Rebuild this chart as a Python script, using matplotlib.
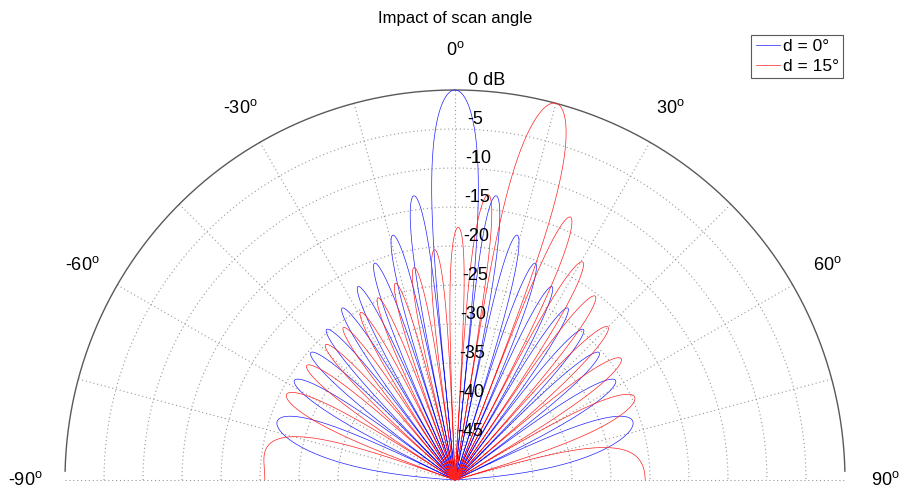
import matplotlib
matplotlib.use("Agg")
import matplotlib.pyplot as plt
import numpy as np

plt.rcParams['font.family'] = ['Liberation Sans', 'DejaVu Sans']
plt.rcParams['mathtext.fontset'] = 'custom'
plt.rcParams['mathtext.rm'] = 'Liberation Sans'

# array: 20 elements, half-wavelength spacing, two scan angles
n_elements = 20
element_spacing = 0.5
scan_angles = [0, 15]
series_labels = ['d = 0°', 'd = 15°']
series_colors = ['#2020ff', '#ff2020']
db_floor = -50
db_rings = [-5, -10, -15, -20, -25, -30, -35, -40, -45]
ring_labels = ['-5', '-10', '-15', '-20', '-25', '-30', '-35', '-40', '-45']
spoke_angles = [-75, -60, -45, -30, -15, 0, 15, 30, 45, 60, 75]
angle_ticks = [-90, -60, -30, 0, 30, 60, 90]

fig = plt.figure(figsize=(9.05, 4.92), dpi=100)
ax = fig.add_axes([0, 0, 1, 1])
ax.set_xlim(-455 / 390, 450 / 390)
ax.set_ylim(-12 / 390, 480 / 390)
ax.axis('off')


def to_xy(theta_deg, r):
    t = np.radians(theta_deg)
    return r * np.sin(t), r * np.cos(t)


def db_to_r(db):
    return np.clip((np.asarray(db) - db_floor) / -db_floor, 0, None)


grid_kw = dict(color='0.6', linestyle=(0, (1, 2.5)), linewidth=0.8)
arc = np.linspace(-90, 90, 721)
for db in db_rings:
    ax.plot(*to_xy(arc, db_to_r(db)), **grid_kw)
for a in spoke_angles:
    ax.plot(*to_xy(np.array([a, a]), np.array([0, 1])), **grid_kw)
ax.plot([-1, 1], [0, 0], **grid_kw)

outer = np.linspace(-88.7, 88.7, 721)
ax.plot(*to_xy(outer, 1.0), color='0.35', linewidth=1.0)

# pattern curves
theta = np.linspace(-90, 90, 7201)
for scan, lab, col in zip(scan_angles, series_labels, series_colors):
    u = np.sin(np.radians(theta)) - np.sin(np.radians(scan))
    psi = np.pi * element_spacing * u
    with np.errstate(divide='ignore', invalid='ignore'):
        af = np.sin(n_elements * psi) / (n_elements * np.sin(psi))
    af = np.where(np.abs(np.sin(psi)) < 1e-12, 1.0, af)
    db = 20 * np.log10(np.maximum(np.abs(af), 1e-6))
    ax.plot(*to_xy(theta, db_to_r(db)), color=col, linewidth=0.5, label=lab)

# radial labels
tilt = np.radians(1.8)
for db, lab in zip([0] + db_rings, ['0 dB'] + ring_labels):
    r = db_to_r(db)
    ax.text(0.8 / 390 + r * np.sin(tilt), r + 9.5 / 390, lab,
            ha='left', va='center', fontsize=13)

# angle labels
for a in angle_ticks:
    x, y = to_xy(a, 430 / 390)
    ax.text(x, y, '%d$^{\\mathrm{o}}$' % a, ha='center', va='center', fontsize=13)

ax.text(0, 462 / 390, 'Impact of scan angle', ha='center', va='center', fontsize=12)

leg = ax.legend(loc='upper right', bbox_to_anchor=(843 / 905, 1 - 35 / 492),
                bbox_transform=fig.transFigure, borderaxespad=0, fontsize=12.5,
                handlelength=1.4, handletextpad=0.15, borderpad=0.25,
                labelspacing=0.25, fancybox=False, framealpha=1)
leg.get_frame().set_edgecolor('0.35')
leg.get_frame().set_linewidth(0.8)

fig.savefig('out.png', dpi=100)
